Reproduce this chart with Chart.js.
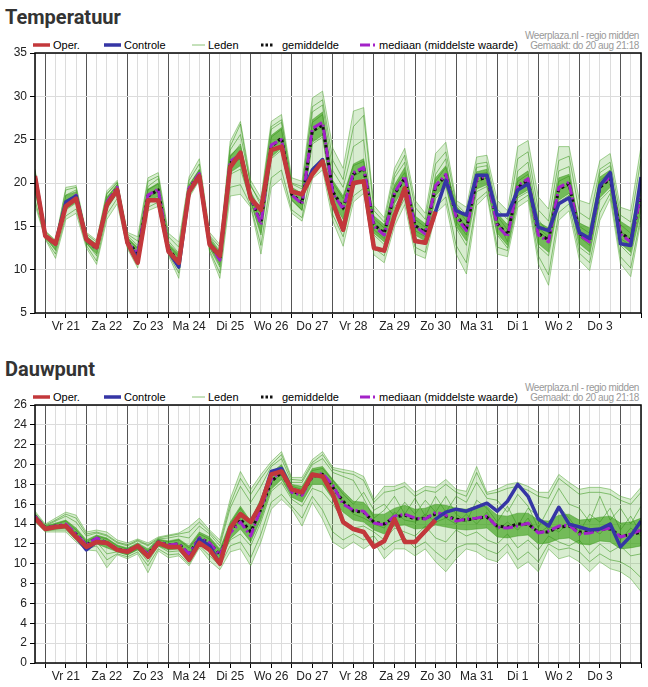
<!DOCTYPE html>
<html>
<head>
<meta charset="utf-8">
<script src="https://cdn.jsdelivr.net/npm/chart.js@4.4.1/dist/chart.umd.min.js"></script>
<style>
  html,body{margin:0;padding:0;background:#fff;width:648px;height:687px;overflow:hidden;font-family:"Liberation Sans",Arial,sans-serif;}
  .title{position:absolute;left:5px;font-family:Roboto,"Liberation Sans",sans-serif;font-weight:700;font-size:20px;color:#333;}
  .leg{position:absolute;font-size:11px;color:#000;white-space:nowrap;line-height:12px;}
  .wm{position:absolute;right:9px;font-size:10px;letter-spacing:-0.4px;color:#999;text-align:right;line-height:10px;white-space:nowrap;}
  svg.s{position:absolute;}
  .wrap{position:absolute;left:0;width:648px;}
</style>
</head>
<body>
<div class="title" style="top:5px">Temperatuur</div>
<div class="title" style="top:357px">Dauwpunt</div>
<div id="leg1"></div>
<div id="leg2"></div>
<div class="wrap" style="top:40px;height:300px"><canvas id="c1" width="648" height="300"></canvas></div>
<div class="wrap" style="top:392px;height:295px"><canvas id="c2" width="648" height="295"></canvas></div>
<script>
// ---------- DATA (6-hourly steps from do 20 aug 18:00) ----------
const dayLabels = ['Vr 21','Za 22','Zo 23','Ma 24','Di 25','Wo 26','Do 27','Vr 28','Za 29','Zo 30','Ma 31','Di 1','Wo 2','Do 3'];
const legendLabels = ['Oper.','Controle','Leden','gemiddelde','mediaan (middelste waarde)'];

// Temperatuur
const tOper = [20.8,13.9,13.0,17.3,18.2,13.5,12.6,17.5,19.2,13.1,10.8,18.0,18.0,12.1,10.8,19.0,20.8,12.9,11.6,21.8,
               23.5,18.2,16.9,23.8,24.2,19.0,18.7,21.0,22.5,17.7,14.6,20.0,20.2,12.5,12.2,16.2,19.4,13.3,13.1,16.7];
const tCtrl = [20.8,13.9,13.0,17.8,18.5,13.5,12.6,17.5,19.2,13.1,11.3,18.0,18.0,12.1,10.3,19.0,20.8,12.9,11.6,21.8,
               23.5,18.2,16.9,23.8,24.2,19.0,18.7,21.5,22.7,17.7,14.6,20.0,20.2,12.5,12.2,16.2,19.4,13.3,13.1,16.7,
               20.3,16.8,16.3,20.9,20.9,16.3,16.3,19.2,19.9,14.9,14.5,17.6,18.3,14.3,13.6,19.7,21.2,13.0,12.8,20.7];
const tMean = [20.5,13.9,12.9,17.6,18.5,13.4,12.4,17.7,19.4,13.2,11.9,18.5,19.2,12.4,10.9,19.3,21.0,13.0,11.2,22.3,
               23.1,18.3,15.4,24.2,25.2,18.7,17.7,26.0,26.7,19.0,17.1,21.0,21.7,15.2,14.2,18.7,20.6,15.1,14.3,19.5,
               20.9,16.3,14.7,20.3,20.7,15.3,14.0,19.5,20.3,14.2,13.4,19.3,19.9,14.2,13.4,19.5,20.5,14.3,13.4,18.4];
const tMed  = [20.6,13.9,12.9,17.7,18.6,13.4,12.5,17.8,19.5,13.1,11.9,18.6,19.3,12.3,10.8,19.4,21.1,13.0,11.1,22.5,
               23.3,18.4,15.2,24.4,25.0,18.6,17.6,26.3,27.0,18.8,17.0,21.2,21.8,15.0,14.0,18.9,20.8,15.0,14.1,19.7,
               21.0,16.1,14.5,20.5,20.8,15.1,13.8,19.7,20.5,14.0,13.2,19.5,20.1,14.0,13.2,19.7,20.7,14.1,13.2,18.6];
const tMin  = [17.5,13.5,11.3,15.8,16.5,12.5,10.6,15.8,17.6,12.4,10.2,16.8,17.3,11.6,9.0,18.3,20.3,12.0,9.0,18.5,
               18.7,17.2,11.8,19.5,20.5,16.5,15.6,20.5,21.5,15.6,12.7,17.8,18.8,11.7,10.8,15.0,17.5,11.8,11.3,16.5,
               17.6,11.8,9.5,17.4,18.6,11.8,11.5,17.2,18.0,10.7,8.2,15.7,16.8,11.1,9.9,15.7,18.2,10.7,9.2,15.7];
const tMax  = [21.6,14.5,13.4,19.5,19.7,14.3,13.4,19.1,20.3,14.3,13.8,20.6,21.2,14.2,13.2,20.7,22.8,14.3,12.9,24.8,
               27.1,20.3,18.3,27.1,27.9,20.6,20.2,29.8,30.6,24.0,21.7,28.3,28.7,17.4,16.0,21.7,24.0,18.0,16.5,23.4,
               24.7,18.0,17.2,23.0,23.2,18.0,16.8,24.2,24.9,18.4,17.0,24.2,24.2,18.0,17.6,22.6,23.4,17.2,16.8,24.2];
const tLow  = [19.0,13.7,12.3,17.0,17.8,13.0,11.8,17.0,18.8,12.8,11.2,17.8,18.5,12.0,10.2,18.8,20.6,12.6,10.5,21.2,
               22.0,17.8,14.2,23.0,24.0,18.0,16.8,24.7,25.5,17.8,15.8,20.0,20.6,14.2,13.2,17.6,19.6,14.0,13.3,18.5,
               19.8,15.0,13.3,19.3,19.8,14.2,12.8,18.5,19.2,13.0,12.0,18.0,18.8,13.0,12.0,18.3,19.5,13.0,12.0,17.0];
const tHigh = [21.0,14.2,13.2,18.6,19.0,13.9,12.9,18.4,19.8,13.7,12.6,19.3,20.0,13.0,11.8,19.8,21.6,13.6,12.0,23.2,
               24.3,19.0,16.8,25.5,26.4,19.5,18.8,27.3,28.2,20.3,18.5,22.2,22.8,16.2,15.2,19.8,21.8,16.2,15.3,20.6,
               22.0,17.4,16.0,21.3,21.6,16.5,15.2,20.6,21.4,15.5,14.8,20.6,21.0,15.4,14.8,20.7,21.5,15.6,14.8,19.8];
// a few individual ensemble members (Leden), estimated
const tLid1 = [21.0,14.2,13.2,18.6,19.2,13.8,12.9,18.2,19.8,13.6,12.4,19.2,19.9,12.8,11.5,19.7,21.5,13.4,11.8,23.0,
               24.5,18.8,16.5,25.3,26.2,19.2,18.4,27.0,27.9,20.0,18.2,22.0,22.5,15.9,14.8,19.5,21.2,15.8,14.9,20.2,
               21.8,17.2,15.6,21.0,21.2,16.2,14.6,20.2,21.0,14.8,13.8,20.2,20.8,15.0,14.2,20.3,21.2,15.2,14.2,19.3];
const tLid2 = [19.2,13.8,12.2,16.9,17.7,13.1,11.6,17.1,18.9,12.9,11.1,17.6,18.4,12.0,10.1,18.9,20.7,12.5,10.3,21.0,
               21.6,17.8,14.0,22.8,23.8,18.0,16.9,24.5,25.3,17.6,15.4,19.6,20.4,14.0,12.9,17.2,19.3,13.6,13.0,18.2,
               19.6,14.8,12.8,19.0,19.6,14.0,12.5,18.3,19.0,12.7,11.6,17.8,18.6,12.6,11.7,18.0,19.2,12.8,11.6,16.8];
const tLid3 = [20.2,14.0,13.0,18.0,18.6,13.5,12.3,18.7,20.0,13.9,12.8,19.6,20.5,13.3,11.9,19.5,21.2,13.8,12.1,24.2,
               26.8,19.6,17.8,26.5,27.3,20.0,19.6,28.8,29.6,22.6,20.4,26.5,27.8,16.8,15.5,21.0,23.2,17.2,15.8,22.2,
               23.6,17.6,16.4,22.2,22.4,17.0,15.8,22.8,23.6,16.9,15.6,22.6,23.1,16.6,15.8,21.6,22.4,16.3,15.5,22.8];
const tLid4 = [18.0,13.6,11.8,16.2,17.0,12.8,11.0,16.4,18.2,12.6,10.6,17.2,17.8,11.8,9.6,18.5,20.5,12.2,9.6,19.5,
               19.8,17.4,12.8,20.6,21.5,16.9,16.0,21.8,22.6,16.3,13.8,18.5,19.4,12.5,11.6,16.0,18.2,12.6,12.0,17.2,
               18.4,12.8,10.8,18.0,19.0,12.6,12.2,17.8,18.6,11.6,9.4,16.6,17.6,11.9,10.8,16.6,18.8,11.5,10.2,16.2];
const tLid5 = [20.6,13.9,12.7,17.5,18.3,13.3,12.5,17.6,19.3,13.1,11.8,18.3,19.0,12.4,10.8,19.2,20.9,12.9,11.1,22.0,
               22.8,18.2,15.6,24.0,25.0,18.6,17.5,25.8,26.6,18.9,16.8,20.8,21.4,15.3,14.3,18.6,20.4,15.0,14.4,19.4,
               20.6,16.4,14.9,20.1,20.6,15.5,14.1,19.3,20.2,14.4,13.5,19.2,19.7,14.3,13.6,19.6,20.4,14.4,13.6,18.1];
const tLid6 = [21.4,14.4,13.3,19.2,19.5,14.1,13.2,18.8,20.1,14.1,13.3,20.2,20.8,13.8,12.6,20.3,22.2,13.9,12.6,23.8,
               25.6,19.8,17.4,26.2,27.0,19.9,19.3,28.2,29.0,21.4,19.5,24.2,25.0,14.6,13.6,20.6,22.4,14.5,13.8,21.0,
               22.8,15.6,14.0,21.8,22.0,15.8,13.2,21.4,22.4,15.8,14.2,21.4,21.9,13.8,12.8,21.2,22.0,13.6,12.8,20.6];

// Dauwpunt
const dOper = [14.6,13.5,13.7,13.8,12.7,11.7,12.2,12.1,11.4,11.2,11.8,10.7,12.1,11.7,11.7,10.4,12.1,11.4,10.0,13.6,
               15.0,14.2,16.0,19.0,19.3,17.5,17.2,19.0,18.8,17.0,14.2,13.5,13.2,11.7,12.3,14.5,12.2,12.2,13.3,14.4];
const dCtrl = [14.6,13.5,13.7,13.8,12.7,11.4,12.2,12.1,11.4,11.2,11.8,10.7,12.1,11.7,11.7,10.4,12.5,11.8,10.0,13.6,
               15.0,14.2,16.0,19.3,19.6,17.5,17.2,19.0,18.8,17.0,14.2,13.5,13.2,11.7,12.3,14.5,12.2,12.2,13.3,14.5,
               15.2,15.5,15.3,15.7,16.1,15.3,16.3,18.0,16.8,14.5,13.8,15.7,14.0,13.7,13.4,13.5,14.0,11.7,12.8,14.3];
const dMean = [14.8,13.6,13.8,13.9,13.0,11.9,12.6,12.1,11.5,11.3,11.8,11.0,12.2,11.9,12.0,11.0,12.6,12.1,10.9,13.3,
               14.5,13.2,15.5,18.3,19.2,17.3,17.0,18.8,19.0,17.7,16.3,15.3,15.2,14.2,14.0,14.7,14.9,14.5,14.6,15.0,
               14.8,14.5,14.4,14.6,14.7,13.8,13.7,14.0,14.0,13.2,13.2,13.7,13.8,13.2,13.2,13.5,13.5,12.8,12.9,13.2];
const dMed  = [14.8,13.6,13.8,14.0,13.0,11.9,12.6,12.1,11.5,11.3,11.8,11.0,12.2,11.9,12.0,11.0,12.6,12.1,10.9,13.1,
               14.2,12.8,15.6,18.5,19.3,17.2,16.9,18.9,19.1,17.9,16.0,15.4,15.3,14.1,13.9,14.8,15.0,14.6,14.5,15.2,
               14.9,14.3,14.5,14.6,14.8,13.7,13.6,13.8,14.1,13.1,13.3,13.8,13.9,13.0,13.1,13.4,13.6,12.7,13.0,13.4];
const dMin  = [14.2,13.2,13.2,13.2,12.2,11.4,11.3,9.6,10.9,10.5,11.0,9.1,11.3,10.6,10.8,9.8,11.6,10.3,9.4,11.2,
               11.5,9.8,12.2,15.5,16.5,15.5,13.8,16.2,14.5,12.2,11.5,12.2,11.5,12.2,10.5,11.5,11.5,10.8,11.5,10.2,
               9.2,10.5,11.5,11.2,10.5,10.2,11.2,9.5,10.2,9.2,11.5,10.5,10.8,10.2,9.2,10.2,9.5,9.2,8.5,7.2];
const dMax  = [15.3,14.0,14.6,15.2,14.9,13.2,13.4,13.2,12.4,12.1,12.5,12.1,12.7,12.9,13.1,13.7,14.6,13.4,12.4,16.5,
               19.3,17.5,19.0,20.3,21.3,18.7,18.7,20.5,21.3,19.7,19.5,19.3,18.8,16.5,17.8,17.8,18.2,17.2,17.8,17.7,
               18.5,17.5,17.3,19.8,17.2,17.5,18.0,18.2,17.8,17.2,17.2,19.0,18.2,17.5,17.7,17.7,17.5,16.8,16.5,17.7];
const dLow  = [14.5,13.4,13.5,13.6,12.6,11.7,12.0,11.6,11.2,10.9,11.4,10.5,11.8,11.4,11.5,10.5,12.0,11.6,10.3,12.5,
               13.5,12.2,14.5,17.5,18.5,16.7,16.2,18.0,18.0,16.5,15.2,14.4,14.2,13.4,13.0,13.8,13.9,13.5,13.6,13.9,
               13.7,13.5,13.4,13.5,13.6,12.7,12.6,12.8,12.9,12.0,12.1,12.5,12.6,12.0,11.9,12.3,12.2,11.5,11.6,11.8];
const dHigh = [15.0,13.8,14.1,14.4,13.6,12.4,12.9,12.6,11.9,11.6,12.1,11.5,12.5,12.3,12.5,11.8,13.2,12.7,11.5,14.2,
               15.8,14.3,16.6,19.2,20.0,18.0,17.8,19.6,19.8,18.5,17.3,16.3,16.2,15.0,15.0,15.6,15.9,15.5,15.6,16.0,
               15.9,15.6,15.5,15.8,15.8,14.9,14.8,15.1,15.1,14.4,14.3,14.9,15.0,14.4,14.5,14.7,14.8,14.1,14.2,14.6];
const dLid1 = [15.0,13.7,14.0,14.3,13.4,12.2,12.8,12.5,11.8,11.5,12.0,11.3,12.4,12.2,12.4,11.6,13.0,12.5,11.3,14.0,
               15.6,14.0,16.4,19.0,19.8,17.8,17.5,19.4,19.6,18.4,17.0,16.0,17.2,15.4,16.0,14.8,16.2,15.0,16.4,15.2,
               16.8,15.0,14.2,16.4,15.6,14.2,15.8,13.8,15.6,14.8,13.4,15.8,14.6,13.2,15.0,14.2,15.6,13.4,14.8,13.0];
const dLid2 = [14.5,13.4,13.5,13.6,12.5,11.6,12.2,11.0,11.2,10.9,11.5,10.2,11.8,11.2,11.3,10.3,12.0,11.3,10.2,12.4,
               13.0,11.8,14.2,17.3,18.2,16.5,15.8,17.6,17.2,16.0,14.4,13.6,13.8,13.2,12.4,13.6,13.2,12.8,13.8,12.6,
               12.2,13.4,12.8,13.2,12.4,12.0,13.0,11.6,12.4,11.4,12.8,12.2,11.8,12.4,11.0,12.0,11.2,11.8,10.8,11.0];
const dLid3 = [14.9,13.8,14.3,14.8,14.2,12.8,13.1,12.8,12.1,11.8,12.3,11.8,12.5,12.6,12.8,12.6,13.8,13.0,11.8,15.6,
               17.8,16.2,17.8,19.8,20.6,18.2,18.2,20.0,20.6,19.2,18.8,18.4,16.6,14.6,15.4,16.8,15.0,16.6,14.8,16.8,
               15.2,16.8,16.2,18.2,16.6,16.4,15.2,17.0,15.8,13.6,15.6,17.6,16.0,15.6,14.2,16.8,14.4,15.6,14.0,15.8];
const dLid4 = [14.4,13.3,13.4,13.4,12.4,11.5,11.8,10.4,11.0,10.7,11.2,9.8,11.5,10.9,11.0,10.0,11.8,10.8,9.8,11.8,
               12.2,10.6,13.0,16.2,17.0,15.8,14.6,16.8,15.4,13.2,12.4,13.0,12.4,12.8,11.4,12.2,12.6,11.6,12.2,11.2,
               10.4,11.6,12.0,12.0,11.4,11.0,12.0,10.4,11.2,10.2,12.0,11.4,11.6,11.2,10.2,11.0,10.4,10.2,9.6,8.6];
const dLid5 = [14.8,13.6,13.8,14.0,13.1,11.9,12.5,12.0,11.5,11.3,11.8,11.1,12.2,11.8,12.0,11.0,12.6,12.0,10.8,13.2,
               14.4,13.0,15.4,18.2,19.0,17.2,16.8,18.6,19.2,18.0,16.2,15.0,14.6,14.0,13.6,15.2,14.4,14.2,15.0,14.2,
               14.6,14.0,15.0,14.0,15.2,13.4,14.2,13.4,14.6,13.0,13.8,13.2,14.2,12.8,13.6,13.0,14.2,12.4,13.6,12.8];
const dLid6 = [15.1,13.9,14.4,15.0,14.6,13.0,13.2,12.9,12.2,11.9,12.4,11.9,12.6,12.8,13.0,13.2,14.2,13.2,12.1,16.0,
               18.6,17.0,18.6,20.0,21.0,18.5,18.4,20.2,21.0,19.5,19.2,19.0,18.4,16.2,17.2,17.4,17.8,16.8,17.4,17.2,
               18.0,17.2,16.8,19.2,17.0,17.2,17.6,17.8,17.4,16.8,16.6,18.6,17.8,17.0,17.2,17.2,17.0,16.4,16.0,17.2];

// ---------- STYLE ----------
const C_OPER = '#c3383b', C_CTRL = '#3535a5', C_MEAN = '#111', C_MED = '#a322c8';
const C_EDGE = 'rgba(80,165,50,0.5)', C_OUTER = 'rgba(115,192,85,0.28)', C_INNER = 'rgba(60,160,25,0.65)';
const C_MEMBER = 'rgba(55,150,25,0.55)';

function pts(arr){ return arr.map((v,i)=>({x:i,y:v})); }

function legend(id, top){
  const el = document.getElementById(id);
  const cy = top;
  el.innerHTML =
    `<svg class="s" style="left:33px;top:${cy-4}px" width="17" height="8"><line x1="0" y1="4" x2="17" y2="4" stroke="${C_OPER}" stroke-width="3.5"/></svg>`+
    `<div class="leg" style="left:53px;top:${cy-6}px">${legendLabels[0]}</div>`+
    `<svg class="s" style="left:104px;top:${cy-4}px" width="17" height="8"><line x1="0" y1="4" x2="17" y2="4" stroke="${C_CTRL}" stroke-width="3.5"/></svg>`+
    `<div class="leg" style="left:124px;top:${cy-6}px">${legendLabels[1]}</div>`+
    `<svg class="s" style="left:192px;top:${cy-4}px" width="13" height="8"><line x1="0" y1="4" x2="13" y2="4" stroke="rgba(90,170,60,0.7)" stroke-width="1"/></svg>`+
    `<div class="leg" style="left:208px;top:${cy-6}px">${legendLabels[2]}</div>`+
    `<svg class="s" style="left:261px;top:${cy-4}px" width="13" height="8"><line x1="0" y1="4" x2="13" y2="4" stroke="${C_MEAN}" stroke-width="3" stroke-dasharray="2.5,2"/></svg>`+
    `<div class="leg" style="left:282px;top:${cy-6}px">${legendLabels[3]}</div>`+
    `<svg class="s" style="left:360px;top:${cy-4}px" width="16" height="8"><line x1="0" y1="4" x2="16" y2="4" stroke="${C_MED}" stroke-width="3" stroke-dasharray="10,3,2,3"/></svg>`+
    `<div class="leg" style="left:379px;top:${cy-6}px">${legendLabels[4]}</div>`+
    `<div class="wm" style="top:${cy-14}px">Weerplaza.nl - regio midden<br>Gemaakt: do 20 aug 21:18</div>`;
}
legend('leg1', 45);
legend('leg2', 397);

const framePlugin = {
  id:'frame',
  afterDraw(chart){
    const a = chart.chartArea, ctx = chart.ctx;
    ctx.save();
    ctx.strokeStyle = '#000';
    ctx.lineWidth = 1.5;
    ctx.strokeRect(a.left, a.top, a.right-a.left, a.bottom-a.top);
    ctx.restore();
  }
};

function makeChart(id, d, yMin, yMax, yStep, xAxisH){
  const line = (data, color, width, order, extra) => Object.assign({
    data: pts(data), borderColor: color, borderWidth: width, pointRadius: 0,
    tension: 0, fill: false, order: order, borderJoinStyle: 'round'
  }, extra || {});
  const members = d.leden.map((m, k) => line(m, C_MEMBER, 1, 10 + k));
  return new Chart(document.getElementById(id), {
    type: 'line',
    data: { datasets: [
      line(d.max, C_EDGE, 1, 30, {fill: 1, backgroundColor: C_OUTER}),
      line(d.min, C_EDGE, 1, 31),
      line(d.high, 'rgba(60,150,30,0.45)', 1, 28, {fill: 3, backgroundColor: C_INNER}),
      line(d.low, 'rgba(60,150,30,0.45)', 1, 29),
      line(d.med, C_MED, 3, 3, {borderDash: [10,3,2,3]}),
      line(d.mean, C_MEAN, 3, 4, {borderDash: [3,3]}),
      line(d.ctrl, C_CTRL, 3.5, 1),
      line(d.oper, C_OPER, 4.5, 0)
    ].concat(members)},
    options: {
      responsive: false, animation: false, devicePixelRatio: 1,
      layout: { padding: { top: 13, right: 7, left: 0, bottom: 0 } },
      plugins: { legend: {display:false}, tooltip: {enabled:false}, filler: {propagate:false} },
      scales: {
        x: {
          type: 'linear', min: 0, max: 59,
          border: { display: false },
          afterFit(s){ s.height = xAxisH; },
          ticks: {
            stepSize: 1, autoSkip: false, maxRotation: 0, padding: 1,
            color: '#222', font: { size: 12, family: '"Liberation Sans", Arial, sans-serif' },
            callback(v){ return (v % 4 === 3 && (v-3)/4 < dayLabels.length) ? dayLabels[(v-3)/4] : ''; }
          },
          grid: {
            color: c => (c.tick && c.tick.value % 4 === 1) ? '#555' : '#dcdcdc',
            lineWidth: 1,
            tickLength: 5,
            tickColor: c => (c.tick && c.tick.value % 2 === 1) ? '#000' : 'rgba(0,0,0,0)'
          }
        },
        y: {
          min: yMin, max: yMax,
          border: { display: false },
          afterFit(s){ s.width = 35; },
          ticks: { stepSize: yStep, padding: 3, color: '#222', font: { size: 12, family: '"Liberation Sans", Arial, sans-serif' } },
          grid: { color: '#dcdcdc', tickLength: 5, tickColor: '#000' }
        }
      }
    },
    plugins: [framePlugin]
  });
}

makeChart('c1', {oper:tOper, ctrl:tCtrl, mean:tMean, med:tMed, min:tMin, max:tMax, low:tLow, high:tHigh,
                 leden:[tLid1,tLid2,tLid3,tLid4,tLid5,tLid6]}, 5, 35, 5, 27);
makeChart('c2', {oper:dOper, ctrl:dCtrl, mean:dMean, med:dMed, min:dMin, max:dMax, low:dLow, high:dHigh,
                 leden:[dLid1,dLid2,dLid3,dLid4,dLid5,dLid6]}, 0, 26, 2, 24);
</script>
</body>
</html>
